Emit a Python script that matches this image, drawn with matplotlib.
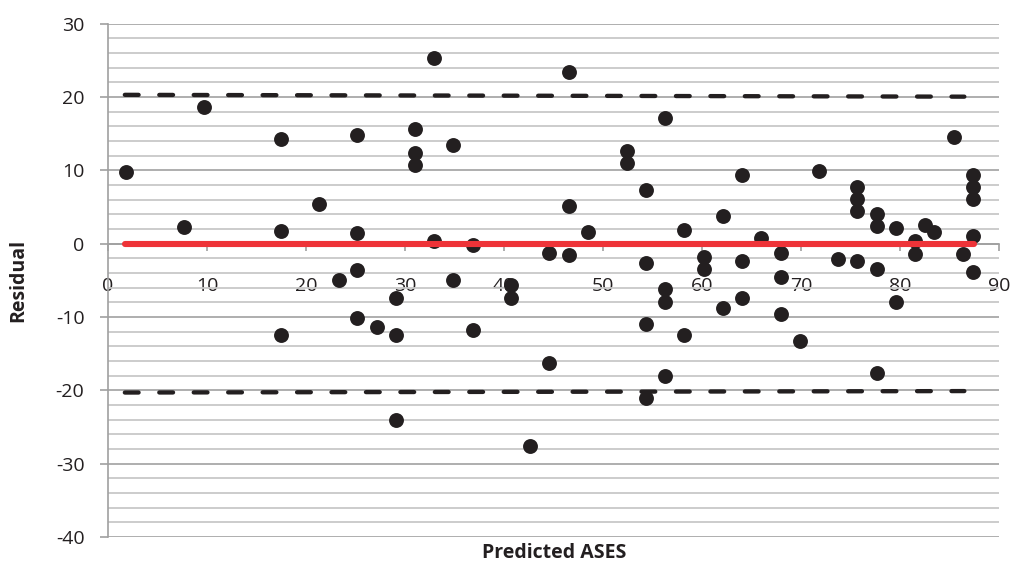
import numpy as np
import matplotlib.pyplot as plt
from matplotlib.ticker import MultipleLocator

plt.rcParams['font.family'] = ['Open Sans', 'DejaVu Sans']
plt.rcParams['axes.unicode_minus'] = False

# predicted ASES (x) and residuals (y)
predicted = [1.8, 7.7, 9.7, 17.5, 17.5, 17.5, 21.3, 23.3, 25.2, 25.2,
             25.2, 25.2, 27.2, 29.1, 29.1, 29.1, 31.0, 31.0, 31.0, 32.9,
             32.9, 34.8, 34.8, 36.9, 36.9, 40.7, 40.7, 42.6, 44.5, 44.5,
             46.6, 46.6, 46.6, 48.5, 52.4, 52.4, 54.3, 54.3, 54.3, 54.3,
             56.3, 56.3, 56.3, 56.3, 58.2, 58.2, 60.2, 60.2, 62.1, 62.1,
             64.0, 64.0, 64.0, 66.0, 68.0, 68.0, 68.0, 69.9, 71.8, 73.7,
             75.7, 75.7, 75.7, 75.7, 77.7, 77.7, 77.7, 77.7, 79.6, 79.6,
             81.5, 81.5, 82.5, 83.4, 85.5, 86.4, 87.4, 87.4, 87.4, 87.4,
             87.4]
residual = [9.8, 2.3, 18.6, 14.3, 1.7, -12.5, 5.4, -5.0, 14.8, 1.5,
            -3.6, -10.1, -11.4, -7.4, -12.4, -24.0, 15.6, 12.3, 10.7, 25.3,
            0.4, 13.4, -4.9, -0.2, -11.8, -5.7, -7.4, -27.6, -1.3, -16.3,
            23.4, 5.1, -1.5, 1.6, 12.6, 11.0, 7.3, -2.6, -11.0, -21.0,
            17.1, -6.2, -8.0, -18.0, 1.9, -12.4, -1.8, -3.5, 3.8, -8.8,
            9.3, -2.4, -7.4, 0.8, -1.3, -4.6, -9.6, -13.3, 9.9, -2.1,
            7.7, 6.1, 4.4, -2.4, 4.0, 2.4, -3.5, -17.6, 2.1, -8.0,
            0.4, -1.4, 2.5, 1.6, 14.6, -1.4, 9.3, 7.7, 6.1, 1.0,
            -3.9]

# limit lines (slightly sloped) and the zero line
limit_x = [1.7, 86.5]
upper_limit = [20.3, 20.05]
lower_limit = [-20.3, -20.1]
zero_x = [1.7, 87.5]
zero_y = [0, 0]

text_col = '#231f20'

fig = plt.figure(figsize=(10.13, 5.66), dpi=100)
ax = fig.add_axes([108 / 1013, 1 - 537 / 566, 891 / 1013, 513.3 / 566])

ax.set_xlim(0, 90)
ax.set_ylim(-40, 30)

# grid
ax.yaxis.set_major_locator(MultipleLocator(10))
ax.yaxis.set_minor_locator(MultipleLocator(2))
ax.xaxis.set_major_locator(MultipleLocator(10))
ax.grid(True, axis='y', which='minor', color='#c8c8c8', lw=1.3, zorder=0)
ax.grid(True, axis='y', which='major', color='#a8a8a8', lw=1.3, zorder=0)
ax.set_axisbelow(True)

ax.scatter(predicted, residual, s=115, color='#231f20', zorder=3, linewidths=0)

ax.plot(limit_x, upper_limit, color='#231f20', lw=3.1, ls=(0, (3.2, 4.8)),
        dash_capstyle='round', zorder=4)
ax.plot(limit_x, lower_limit, color='#231f20', lw=3.1, ls=(0, (3.2, 4.8)),
        dash_capstyle='round', zorder=4)
ax.plot(zero_x, zero_y, color='#ee3338', lw=4.4, solid_capstyle='round', zorder=5)

# axes styling like Excel
for s in ['top', 'right']:
    ax.spines[s].set_visible(False)
ax.spines['bottom'].set_position(('data', 0))
ax.spines['bottom'].set_color('#a0a0a0')
ax.spines['bottom'].set_linewidth(1.2)
ax.spines['left'].set_color('#a0a0a0')
ax.spines['left'].set_linewidth(1.2)
ax.tick_params(axis='y', which='major', length=6, width=1.2, color='#a0a0a0',
               pad=11, labelsize=14, labelcolor=text_col)
ax.tick_params(axis='y', which='minor', length=0)
ax.tick_params(axis='x', which='major', length=5, width=1.2, color='#a0a0a0',
               pad=19, labelsize=14, labelcolor=text_col)

ax.set_xlabel('Predicted ASES', fontsize=14, fontweight='bold', color=text_col)
ax.set_ylabel('Residual', fontsize=14, fontweight='bold', color=text_col)
ax.xaxis.set_label_coords(0.5006, -0.031)
ax.yaxis.set_label_coords(-0.101, 0.5)
ax.xaxis.label.set_va('center')
ax.yaxis.label.set_va('center')

fig.savefig('out.png', dpi=100)
